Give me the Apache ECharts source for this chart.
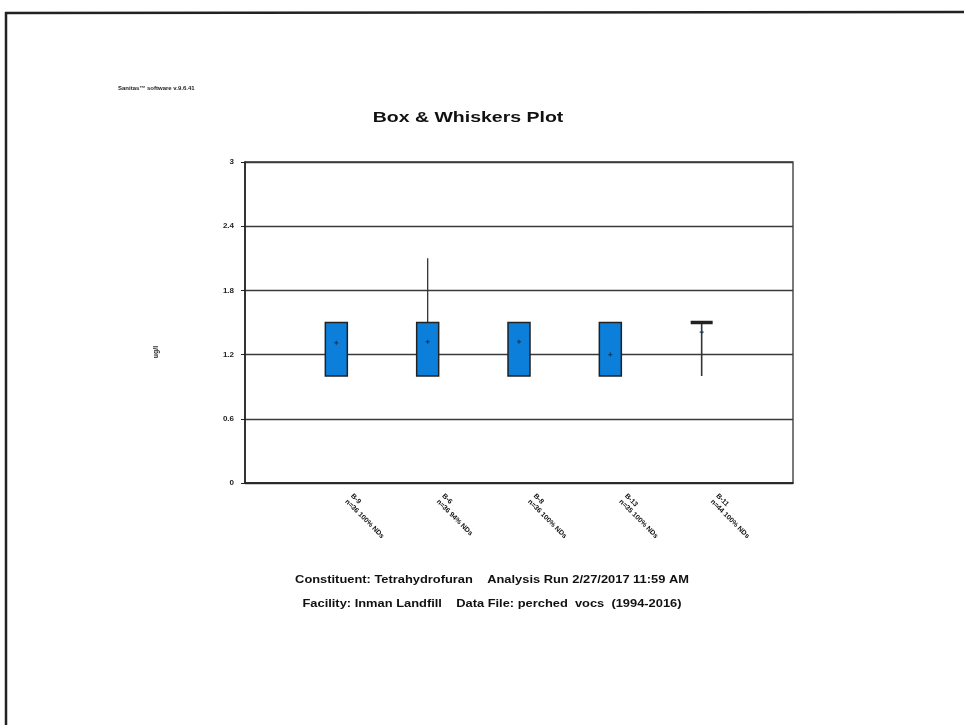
<!DOCTYPE html>
<html>
<head>
<meta charset="utf-8">
<style>
  html, body { margin: 0; padding: 0; background: #fff; }
  #chart { width: 964px; height: 725px; }
</style>
<script src="https://cdn.jsdelivr.net/npm/echarts@6/dist/echarts.min.js"></script>
</head>
<body>
<div id="chart"></div>
<script>
// Wells and sample summary lines under each box
const wells = ['B-9', 'B-6', 'B-8', 'B-13', 'B-11'];
const sampleNotes = ['n=36 100% NDs', 'n=36 94% NDs', 'n=36 100% NDs', 'n=35 100% NDs', 'n=44 100% NDs'];

// Box statistics (ug/l)
const whiskerLow = [1.0, 1.0, 1.0, 1.0, 1.0];
const quart1 = [1.0, 1.0, 1.0, 1.0, 1.5];
const quart3 = [1.5, 1.5, 1.5, 1.5, 1.5];
const whiskerHigh = [1.5, 2.1, 1.5, 1.5, 1.5];
const means = [1.31, 1.32, 1.32, 1.2, 1.41];

const yTicks = [0, 0.6, 1.2, 1.8, 2.4, 3];

const FONT = 'Liberation Sans, Arial, sans-serif';
const chart = echarts.init(document.getElementById('chart'));

const boxData = wells.map((w, i) => [i + 1, whiskerLow[i], quart1[i], quart3[i], whiskerHigh[i], means[i]]);

function renderBox(params, api) {
  const x = api.value(0);
  const lo = api.coord([x, api.value(1)]);
  const q1 = api.coord([x, api.value(2)]);
  const q3 = api.coord([x, api.value(3)]);
  const hi = api.coord([x, api.value(4)]);
  const mn = api.coord([x, api.value(5)]);
  const half = 11;
  const children = [];
  const ink = '#222';
  if (hi[1] < q3[1] - 0.5) {
    children.push({ type: 'line', shape: { x1: hi[0], y1: hi[1], x2: q3[0], y2: q3[1] }, style: { stroke: '#333', lineWidth: 1.3 } });
  }
  if (lo[1] > q1[1] + 0.5) {
    children.push({ type: 'line', shape: { x1: lo[0], y1: lo[1], x2: q1[0], y2: q1[1] }, style: { stroke: '#333', lineWidth: 1.6 } });
  }
  const h = q1[1] - q3[1];
  if (h > 1) {
    children.push({
      type: 'rect',
      shape: { x: q3[0] - half, y: q3[1], width: half * 2, height: h },
      style: { fill: '#0b7fd9', stroke: ink, lineWidth: 1.5 }
    });
  } else {
    children.push({
      type: 'line',
      shape: { x1: q3[0] - half, y1: q3[1], x2: q3[0] + half, y2: q3[1] },
      style: { stroke: ink, lineWidth: 3.5 }
    });
  }
  // mean marker
  children.push({ type: 'line', shape: { x1: mn[0] - 2, y1: mn[1], x2: mn[0] + 2, y2: mn[1] }, style: { stroke: '#1a3a5a', lineWidth: 1.2 } });
  children.push({ type: 'line', shape: { x1: mn[0], y1: mn[1] - 2, x2: mn[0], y2: mn[1] + 2 }, style: { stroke: '#1a3a5a', lineWidth: 1.2 } });
  return { type: 'group', children };
}

function caption(text, x, y, size, sx) {
  return {
    type: 'text', x: x, y: y, scaleX: sx, originX: 0, originY: 0,
    style: { text: text, x: 0, y: 0, textAlign: 'center', textVerticalAlign: 'middle', fontFamily: FONT, fontSize: size, fontWeight: 'bold', fill: '#111' }
  };
}

chart.setOption({
  backgroundColor: '#fff',
  animation: false,
  grid: { left: 245, right: 171, top: 162, bottom: 242, show: true, borderColor: '#333', borderWidth: 1.3 },
  xAxis: {
    type: 'value', min: 0, max: 6, interval: 1,
    axisLine: { show: true, onZero: false, lineStyle: { color: '#222', width: 1.6 } },
    axisTick: { show: false },
    splitLine: { show: false },
    axisLabel: {
      rotate: -45,
      margin: 2,
      padding: [0, 0, 0, 18],
      fontFamily: FONT,
      fontSize: 7, fontWeight: 'bold', color: '#111', lineHeight: 8,
      formatter: v => (v >= 1 && v <= wells.length) ? wells[v - 1] + '\n' + sampleNotes[v - 1] : ''
    }
  },
  yAxis: {
    type: 'value', min: 0, max: 3, interval: 0.6,
    axisLine: { show: true, lineStyle: { color: '#222', width: 1.6 } },
    axisTick: { show: true, length: 4, lineStyle: { color: '#222' } },
    splitLine: { show: true, lineStyle: { color: '#3a3a3a', width: 1.4 } },
    axisLabel: {
      margin: 11,
      fontFamily: FONT, fontSize: 8, fontWeight: 'bold', color: '#222',
      formatter: v => { const t = yTicks.find(k => Math.abs(k - v) < 1e-6); return t === undefined ? '' : String(t); }
    }
  },
  series: [{
    type: 'custom',
    renderItem: renderBox,
    encode: { x: 0, y: [1, 2, 3, 4, 5] },
    data: boxData,
    z: 5
  }],
  graphic: [
    { type: 'line', shape: { x1: 5, y1: 13, x2: 964, y2: 12 }, style: { stroke: '#222', lineWidth: 2.5 } },
    { type: 'line', shape: { x1: 6, y1: 12, x2: 6, y2: 725 }, style: { stroke: '#222', lineWidth: 2.5 } },
    { type: 'text', left: 118, top: 85, style: { text: 'Sanitas\u2122 software v.9.6.41', fontFamily: FONT, fontSize: 6, fontWeight: 'bold', fill: '#222' } },
    {
      type: 'text', x: 156, y: 352, rotation: Math.PI / 2,
      style: { text: 'ug/l', x: 0, y: 0, textAlign: 'center', textVerticalAlign: 'middle', fontFamily: FONT, fontSize: 7, fontWeight: 'bold', fill: '#222' }
    },
    caption('Box & Whiskers Plot', 468, 118, 15, 1.3),
    caption('Constituent: Tetrahydrofuran    Analysis Run 2/27/2017 11:59 AM', 492, 580, 11, 1.17),
    caption('Facility: Inman Landfill    Data File: perched  vocs  (1994-2016)', 492, 604, 11, 1.17)
  ]
});
</script>
</body>
</html>
